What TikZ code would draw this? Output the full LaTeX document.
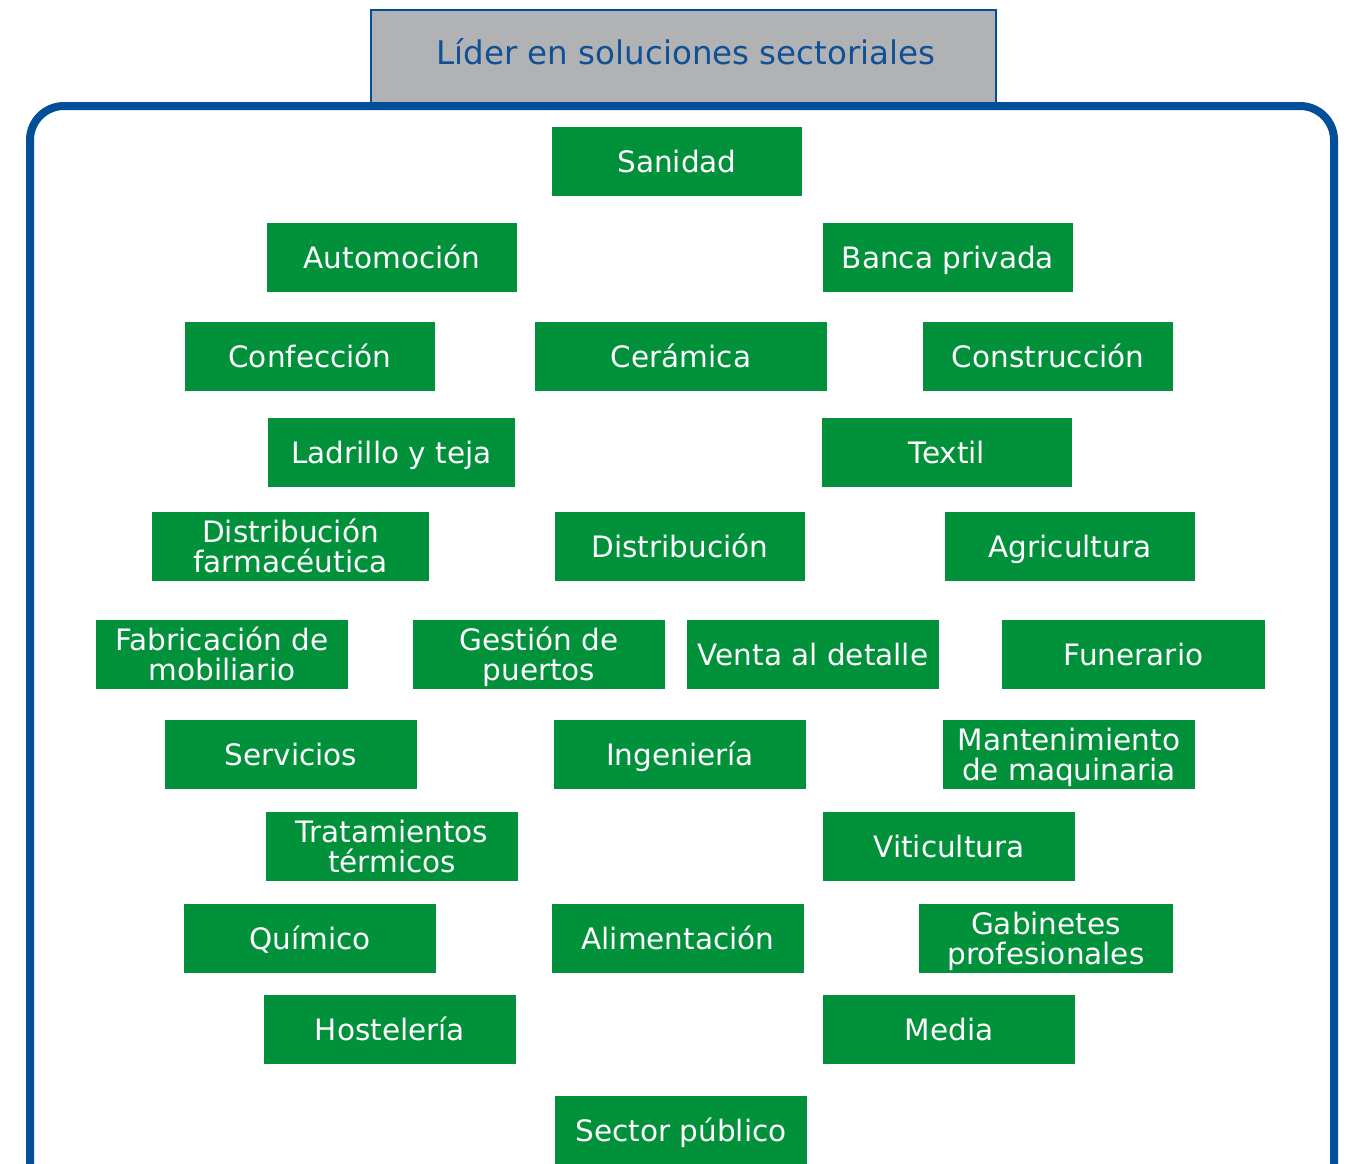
\documentclass[tikz,border=0pt]{standalone}
\usepackage{fontspec}
\setmainfont{DejaVu Sans}
\definecolor{sgreen}{RGB}{0,145,58}
\definecolor{fblue}{RGB}{0,79,152}
\definecolor{tblue}{RGB}{16,80,150}
\definecolor{hgray}{RGB}{177,178,180}
\tikzset{
  sector/.style={fill=sgreen, draw=none, text=white, inner sep=0pt, minimum height=69pt,
    align=center, font=\fontsize{29.5}{29.5}\selectfont, text height=21.5pt, text depth=0pt},
  sector2/.style={sector, text height=51pt},
  header/.style={fill=hgray, draw=fblue, line width=2pt, inner sep=0pt},
  headertext/.style={text=tblue, inner sep=0pt, font=\fontsize{32.5}{36}\selectfont},
  frame/.style={draw=fblue, line width=8pt, rounded corners=34pt}
}
\begin{document}
\begin{tikzpicture}[x=1pt,y=-1pt]
\useasboundingbox (0,0) rectangle (1351,1163);
\clip (0,0) rectangle (1351,1163);
\node[header, minimum width=625pt, minimum height=94pt] (titlebox) at (683.5,57) {};
\node[headertext] (title) at (686,52) {Líder en soluciones sectoriales};
\draw[frame] (30,1200) -- (30,106) -- (1334,106) -- (1334,1200);
\node[sector, minimum width=250pt] (sanidad) at (677,161.5) {Sanidad};
\node[sector, minimum width=250pt] (automocion) at (392,257.5) {Automoción};
\node[sector, minimum width=250pt] (banca) at (948,257.5) {Banca privada};
\node[sector, minimum width=250pt] (confeccion) at (310,356.5) {Confección};
\node[sector, minimum width=292pt] (ceramica) at (681,356.5) {Cerámica};
\node[sector, minimum width=250pt] (construccion) at (1048,356.5) {Construcción};
\node[sector, minimum width=247pt] (ladrillo) at (391.5,452.5) {Ladrillo y teja};
\node[sector, minimum width=250pt] (textil) at (947,452.5) {Textil};
\node[sector2, minimum width=277pt] (distfarma) at (290.5,546.5) {Distribución\\farmacéutica};
\node[sector, minimum width=250pt] (distribucion) at (680,546.5) {Distribución};
\node[sector, minimum width=250pt] (agricultura) at (1070,546.5) {Agricultura};
\node[sector2, minimum width=252pt] (fabricacion) at (222,654.5) {Fabricación de\\mobiliario};
\node[sector2, minimum width=252pt] (gestion) at (539,654.5) {Gestión de\\puertos};
\node[sector, minimum width=252pt] (venta) at (813,654.5) {Venta al detalle};
\node[sector, minimum width=263pt] (funerario) at (1133.5,654.5) {Funerario};
\node[sector, minimum width=252pt] (servicios) at (291,754.5) {Servicios};
\node[sector, minimum width=252pt] (ingenieria) at (680,754.5) {Ingeniería};
\node[sector2, minimum width=252pt] (mantenimiento) at (1069,754.5) {Mantenimiento\\de maquinaria};
\node[sector2, minimum width=252pt] (tratamientos) at (392,846.5) {Tratamientos\\térmicos};
\node[sector, minimum width=252pt] (viticultura) at (949,846.5) {Viticultura};
\node[sector, minimum width=252pt] (quimico) at (310,938.5) {Químico};
\node[sector, minimum width=252pt] (alimentacion) at (678,938.5) {Alimentación};
\node[sector2, minimum width=254pt] (gabinetes) at (1046,938.5) {Gabinetes\\profesionales};
\node[sector, minimum width=252pt] (hosteleria) at (390,1029.5) {Hostelería};
\node[sector, minimum width=252pt] (media) at (949,1029.5) {Media};
\node[sector, minimum width=252pt] (sector) at (681,1130.5) {Sector público};
\end{tikzpicture}
\end{document}
